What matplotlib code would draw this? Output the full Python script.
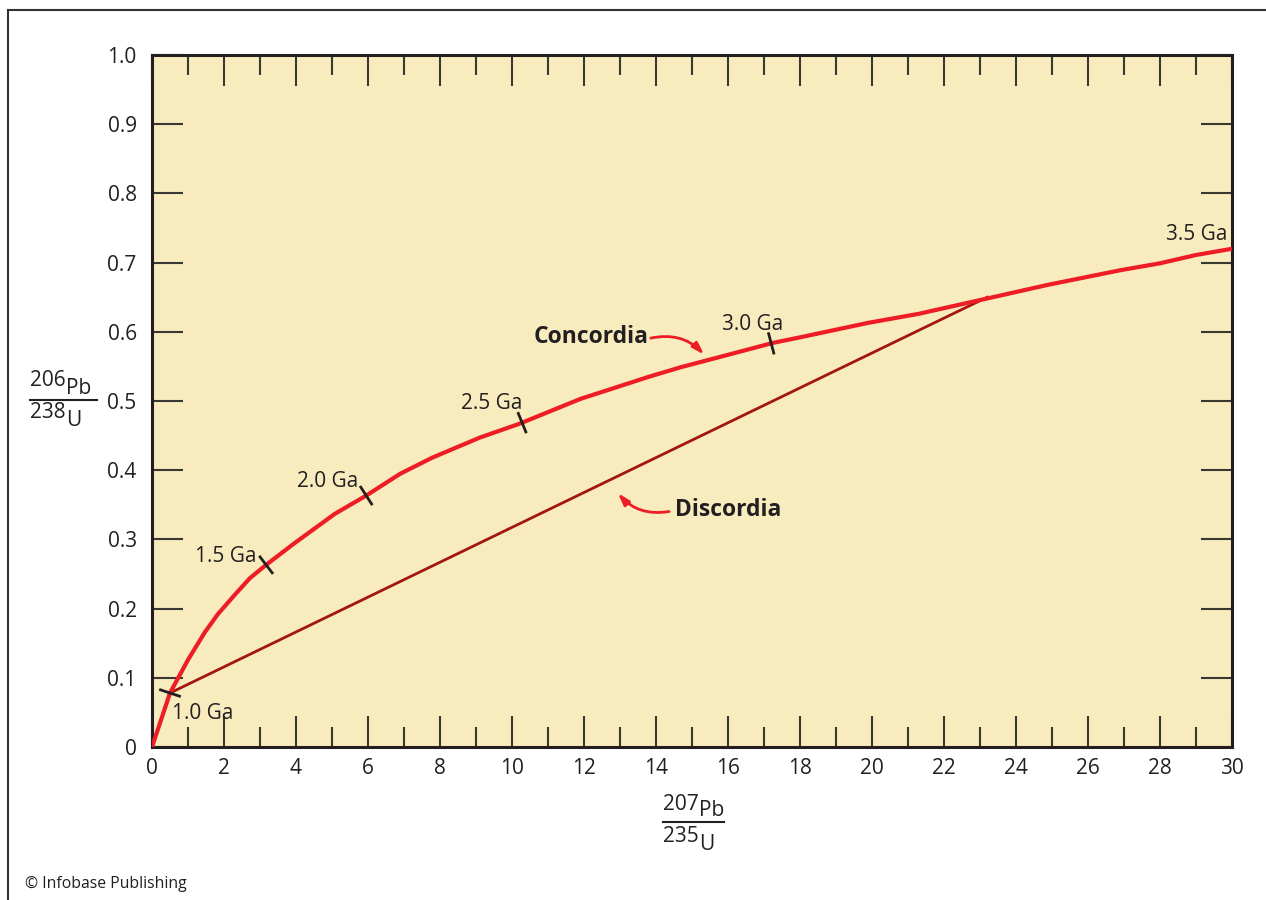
import numpy as np
import matplotlib
matplotlib.use("Agg")
import matplotlib.pyplot as plt
from matplotlib.lines import Line2D

plt.rcParams['font.family'] = ['Open Sans', 'DejaVu Sans']

# concordia curve (207Pb/235U, 206Pb/238U)
conc_x = [0, 0.5, 1.0, 1.47, 1.83, 2.3, 2.72, 3.14, 3.97, 5.08, 5.94, 6.9, 7.78,
          9.1, 10.2, 11.9, 13.8, 14.7, 15.8, 17.25, 18.0, 19.9, 21.3, 23.1, 24.9,
          26.9, 28.0, 29.0, 30.0]
conc_y = [0, 0.078, 0.126, 0.166, 0.192, 0.22, 0.244, 0.262, 0.295, 0.337, 0.363,
          0.395, 0.418, 0.447, 0.467, 0.503, 0.535, 0.549, 0.564, 0.584, 0.592,
          0.613, 0.626, 0.647, 0.668, 0.689, 0.699, 0.711, 0.72]

# discordia end points
disc_x = [0.5, 23.2]
disc_y = [0.078, 0.65]

# age marks on the concordia
ages = ["1.0 Ga", "1.5 Ga", "2.0 Ga", "2.5 Ga", "3.0 Ga"]
age_x = [0.5, 3.17, 5.95, 10.28, 17.2]
age_lab_x = [0.56, 2.06, 4.89, 9.44, 16.69]
age_lab_y = [0.049, 0.2746, 0.383, 0.496, 0.611]

x_ticks = list(range(0, 31, 2))
y_ticks = [0, 0.1, 0.2, 0.3, 0.4, 0.5, 0.6, 0.7, 0.8, 0.9, 1.0]
y_tick_labels = ["0", "0.1", "0.2", "0.3", "0.4", "0.5", "0.6", "0.7", "0.8", "0.9", "1.0"]

bg = "#F8ECBE"
red = "#EE1C25"
dark_red = "#A3150F"
ink = "#231F20"
fs = 15

fig = plt.figure(figsize=(12.66, 9), dpi=100)
ax = fig.add_axes([152 / 1266, 1 - 747 / 900, 1080 / 1266, 692 / 900])
ax.set_facecolor(bg)
ax.set_xlim(0, 30)
ax.set_ylim(0, 1.0)

ax.plot(disc_x, disc_y, color=dark_red, lw=2.0, zorder=3)
ax.plot(conc_x, conc_y, color=red, lw=3.0, zorder=4, solid_capstyle='butt')

# short black marks across the curve
fig.canvas.draw()
trans = ax.transData
pts = trans.transform(np.column_stack([conc_x, conc_y]))
for xa in age_x:
    ya = np.interp(xa, conc_x, conc_y)
    p = trans.transform((xa, ya))
    i = np.searchsorted(conc_x, xa)
    i = min(max(i, 1), len(conc_x) - 1)
    d = pts[i] - pts[i - 1]
    d = d / np.hypot(*d)
    n = np.array([-d[1], d[0]]) * 10
    seg = trans.inverted().transform([p - n, p + n])
    ax.plot(seg[:, 0], seg[:, 1], color=ink, lw=2.0, zorder=5)

for lab, lx, ly in zip(ages, age_lab_x, age_lab_y):
    ha = "left" if lab == "1.0 Ga" else "center"
    ax.text(lx, ly, lab, ha=ha, va="center", fontsize=fs, color=ink, zorder=6)
ax.text(29.03, 0.740, "3.5 Ga", ha="center", va="center", fontsize=fs, color=ink)

ax.text(12.19, 0.5925, "Concordia", ha="center", va="center", fontsize=16.5,
        fontweight="bold", color=ink)
ax.annotate("", xy=(15.39, 0.564), xytext=(13.78, 0.590),
            arrowprops=dict(arrowstyle="-|>,head_length=0.7,head_width=0.22",
                            color=red, lw=2, connectionstyle="arc3,rad=-0.3"))
ax.text(16.0, 0.3425, "Discordia", ha="center", va="center", fontsize=16.5,
        fontweight="bold", color=ink)
ax.annotate("", xy=(12.89, 0.370), xytext=(14.44, 0.341),
            arrowprops=dict(arrowstyle="-|>,head_length=0.7,head_width=0.22",
                            color=red, lw=2, connectionstyle="arc3,rad=-0.3"))

ax.set_xticks(x_ticks)
ax.set_xticklabels([str(v) for v in x_ticks])
ax.set_xticks(range(1, 30, 2), minor=True)
ax.set_yticks(y_ticks)
ax.set_yticklabels(y_tick_labels)
ax.tick_params(which="both", direction="in", top=True, right=True, color="#3A3832",
               width=1.5, labelsize=fs, labelcolor=ink)
ax.tick_params(which="major", length=22)
ax.tick_params(which="minor", length=14.5)
ax.tick_params(axis="y", pad=11)
ax.tick_params(axis="x", pad=8)
for s in ax.spines.values():
    s.set_color(ink)
    s.set_linewidth(2.2)

# isotope ratio labels
def ratio(x0, y_top, y_bot, line_y, width, num, den):
    fig.text(x0 / 1266, 1 - y_top / 900, num, fontsize=fs, color=ink, va="center")
    fig.text((x0 + 36) / 1266, 1 - (y_top + 7) / 900, "Pb", fontsize=fs, color=ink, va="center")
    fig.text(x0 / 1266, 1 - y_bot / 900, den, fontsize=fs, color=ink, va="center")
    fig.text((x0 + 36) / 1266, 1 - (y_bot + 7) / 900, "U", fontsize=fs, color=ink, va="center")
    fig.add_artist(Line2D([x0 / 1266, (x0 + width) / 1266], [1 - line_y / 900] * 2,
                          color=ink, lw=1.5))

ratio(30, 381, 413, 400, 67, "206", "238")
ratio(663, 804, 837, 822, 61, "207", "235")

fig.text(25 / 1266, 1 - 884 / 900, "© Infobase Publishing", fontsize=11.3, color=ink,
         va="center")

# outer frame
fig.add_artist(Line2D([8 / 1266, 1], [1 - 10 / 900] * 2, color="#333333", lw=1.5))
fig.add_artist(Line2D([8 / 1266, 8 / 1266], [0, 1 - 10 / 900], color="#333333", lw=1.5))

fig.savefig("out.png", dpi=100)
